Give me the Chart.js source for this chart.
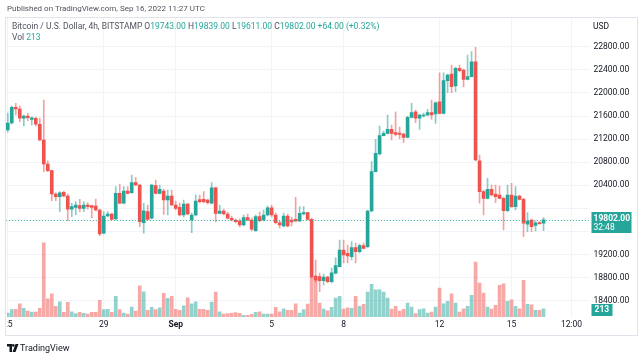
<!DOCTYPE html>
<html>
<head>
<meta charset="utf-8">
<script src="https://cdn.jsdelivr.net/npm/chart.js@4.4.0/dist/chart.umd.min.js"></script>
<style>
  body { margin: 0; width: 640px; height: 359px; overflow: hidden; position: relative; background: #fff;
         font-family: Roboto, 'Liberation Sans', sans-serif; color: #131722; }
  #chart { position: absolute; left: 0; top: 0; }
  .t { position: absolute; white-space: nowrap; line-height: 1; }
  #frame { position: absolute; left: 5px; top: 17px; width: 631px; height: 317px; border: 1px solid #e0e3eb; }
  #mask { position: absolute; left: 0; top: 300px; width: 7px; height: 40px; background: #fff; }
  .up { color: #26a69a; }
</style>
</head>
<body>
<canvas id="chart" width="640" height="359"></canvas>
<div id="mask"></div>
<div id="frame"></div>
<div class="t" style="left:7px; top:5px; font-size:8px; color:#50535e;">Published on TradingView.com, Sep 16, 2022 11:27 UTC</div>
<div class="t" style="left:12px; top:22px; font-size:8.5px; color:#50535e;">Bitcoin / U.S. Dollar, 4h, BITSTAMP O<span class="up">19743.00</span> H<span class="up">19839.00</span> L<span class="up">19611.00</span> C<span class="up">19802.00</span> <span class="up">+64.00 (+0.32%)</span></div>
<div class="t" style="left:12px; top:33px; font-size:8.5px; color:#50535e;">Vol <span class="up">213</span></div>
<div class="t" style="left:593px; top:22px; font-size:8.5px;">USD</div>
<svg style="position:absolute; left:7px; top:344px;" width="12" height="8" viewBox="0 0 12 8">
  <path d="M0 0h5v8h-2.5v-5.5h-2.5z" fill="#131722"/>
  <circle cx="6.3" cy="1.4" r="1.3" fill="#131722"/>
  <path d="M8.5 0h3l-3 8h-3z" fill="#131722"/>
</svg>
<div class="t" style="left:20px; top:344px; font-size:9px; color:#131722;">TradingView</div>
<script>
// BTC/USD 4h candles, Aug 25 00:00 .. Sep 16 08:00 (UTC)
const openVals = [21358,21479,21751,21722,21561,21601,21543,21561,21457,21184,
  20768,20652,20248,20201,20277,20213,19983,20017,20045,20000,
  20057,20045,20040,19971,19567,19867,19901,19815,20260,20087,
  20300,20271,20444,20404,19750,19941,19827,20392,20260,20300,
  20144,20213,20057,20017,19884,20075,19797,19884,20153,20156,
  20144,20087,20357,19913,19953,19901,19827,19797,19780,19711,
  19837,19797,19612,19855,19797,19884,20010,19884,19750,19693,
  19867,19797,19809,19780,19901,19924,19809,18826,18814,18745,
  18809,18727,18873,18987,19277,19220,19161,19317,19248,19352,
  19334,19953,20635,20942,21259,21300,21370,21311,21306,21288,
  21231,21578,21675,21561,21601,21618,21658,21635,21848,21647,
  22213,22329,22121,22428,22398,22237,22282,22542,20825,20288,
  20173,20329,20248,20231,20173,19959,20231,20028,20213,20156,
  19723,19797,19705,19750,19743];
const highVals = [21653,21774,21821,21774,21618,21647,21588,21583,21566,21878,
  20825,20664,20270,20288,20300,20248,20087,20115,20156,20115,
  20097,20057,20161,19988,19941,19941,19919,20375,20421,20375,
  20375,20578,20537,20421,20087,20057,20421,20491,20404,20335,
  20317,20317,20127,20092,20144,20092,19919,20231,20231,20288,
  20161,20444,20369,20057,19988,19936,19867,19815,19815,19884,
  19901,19832,19884,19936,19971,20040,20057,19919,19780,19919,
  19901,19849,20191,20028,20028,19936,19832,19104,18878,18861,
  18826,18965,19139,19450,19450,19364,19421,19398,19381,19398,
  19971,20808,21196,21427,21340,21618,21445,21675,21410,21306,
  21601,21821,21705,21635,21653,21717,21878,21848,22351,22351,
  22329,22485,22450,22485,22416,22658,22716,22792,20924,20317,
  20520,20404,20404,20387,20196,20404,20434,20375,20231,20179,
  19924,19815,19780,19771,19839];
const lowVals = [21323,21462,21618,21502,21427,21519,21445,21427,21167,20635,
  20635,20132,20132,19941,20196,19785,19854,19884,19941,19941,
  19983,19832,19953,19525,19554,19849,19797,19797,20075,20075,
  20248,20260,20387,19681,19567,19797,19815,20248,20248,19896,
  19884,20040,19971,19867,19849,19884,19577,19867,20092,20092,
  20075,20075,19768,19901,19884,19815,19780,19745,19676,19693,
  19780,19607,19598,19763,19780,19867,19849,19728,19659,19676,
  19676,19693,19763,19763,19884,19797,18791,18722,18554,18670,
  18705,18705,18861,18982,19052,19052,19104,19052,19225,19294,
  19312,19936,20630,20924,21254,21288,21184,21254,21202,21138,
  21219,21566,21484,21370,21583,21601,21543,21474,21635,21635,
  22005,22005,22022,22363,22109,22225,22277,20820,20087,19884,
  20161,20213,20097,20161,19624,19936,20014,19971,20144,19508,
  19594,19594,19607,19719,19611];
const closeVals = [21479,21751,21722,21561,21601,21571,21571,21457,21184,20768,
  20652,20248,20201,20270,20213,19983,20028,20057,20000,20057,
  20028,20017,19971,19554,19867,19901,19809,20260,20087,20300,
  20260,20444,20404,19768,19958,19809,20404,20260,20329,20144,
  20213,20057,20000,19884,20075,19901,19884,20127,20114,20114,
  20097,20357,19913,19953,19901,19827,19797,19768,19711,19837,
  19797,19636,19855,19785,19884,20010,19884,19750,19711,19867,
  19693,19763,19780,19913,19924,19809,18814,18757,18745,18809,
  18727,18883,19005,19277,19190,19173,19317,19248,19352,19306,
  19953,20635,20954,21259,21300,21370,21300,21283,21283,21231,
  21578,21658,21561,21618,21618,21658,21618,21831,21647,22213,
  22312,22109,22428,22386,22237,22282,22542,20838,20288,20173,
  20329,20231,20201,20173,19959,20231,20028,20213,20156,19740,
  19780,19681,19750,19733,19802];
const volumeVals = [103,188,198,342,224,154,129,129,224,1910,
  470,599,275,393,121,378,136,85,121,95,
  77,121,121,429,188,198,121,532,188,103,
  77,257,154,804,650,172,249,188,239,609,
  481,532,198,172,290,496,342,393,198,198,
  172,386,643,136,77,85,103,111,95,44,
  44,69,121,136,77,77,77,249,136,213,
  172,172,342,103,188,334,1028,977,360,206,
  162,249,488,532,206,239,224,532,275,326,
  643,840,702,702,643,488,206,275,154,198,
  360,257,85,188,213,103,129,257,745,342,
  403,599,360,129,213,275,558,1414,874,617,
  257,206,301,815,856,403,445,275,213,943,
  326,316,172,172,213];

// time axis: 4h slots from Aug 25 00:00, plus empty slots to the right edge
const slotCount = 146;
const slots = Array.from({ length: slotCount }, (_, i) => i);
const timeTickIndex = [0, 24, 42, 66, 84, 108, 126, 141];
const timeTickText = ['25', '29', 'Sep', '5', '8', '12', '15', '12:00'];
const priceTicks = [18400, 18800, 19200, 19600, 20000, 20400, 20800, 21200, 21600, 22000, 22400, 22800];
const countdown = '32:48';

const GREEN = '#26a69a', RED = '#ef5350';
const up = closeVals.map((c, i) => c >= openVals[i]);
const lastClose = closeVals[closeVals.length - 1];
const lastVol = volumeVals[volumeVals.length - 1];

Chart.defaults.font.family = 'Roboto, "Liberation Sans", sans-serif';
Chart.defaults.font.size = 8.5;
Chart.defaults.color = '#131722';

const lastValuePlugin = {
  id: 'lastValue',
  afterDatasetsDraw(chart) {
    const { ctx, chartArea } = chart;
    const y = chart.scales.y.getPixelForValue(lastClose);
    ctx.save();
    ctx.strokeStyle = GREEN;
    ctx.lineWidth = 1;
    ctx.setLineDash([1, 2]);
    ctx.beginPath();
    ctx.moveTo(chartArea.left, Math.round(y) + 0.5);
    ctx.lineTo(chartArea.right, Math.round(y) + 0.5);
    ctx.stroke();
    ctx.restore();
  },
  afterDraw(chart) {
    const { ctx, chartArea } = chart;
    const x = chartArea.right + 2;
    const y = Math.round(chart.scales.y.getPixelForValue(lastClose));
    ctx.save();
    ctx.fillStyle = GREEN;
    ctx.fillRect(x, y - 8, 40, 21);
    ctx.fillStyle = '#fff';
    ctx.textBaseline = 'middle';
    ctx.font = 'bold 8.5px Roboto, sans-serif';
    ctx.fillText(lastClose.toFixed(2), x + 2, y - 1);
    ctx.font = '8.5px Roboto, sans-serif';
    ctx.fillText(countdown, x + 2, y + 8);
    const vy = Math.round(chart.scales.vol.getPixelForValue(lastVol));
    ctx.fillStyle = GREEN;
    ctx.fillRect(x, vy - 5, 21, 12);
    ctx.fillStyle = '#fff';
    ctx.font = 'bold 8.5px Roboto, sans-serif';
    ctx.fillText(String(lastVol), x + 3, vy + 1);
    ctx.restore();
  }
};

new Chart(document.getElementById('chart').getContext('2d'), {
  type: 'bar',
  data: {
    labels: slots,
    datasets: [
      {
        label: 'body',
        data: openVals.map((o, i) => [o, closeVals[i]]),
        yAxisID: 'y',
        backgroundColor: up.map(u => u ? GREEN : RED),
        barThickness: 3,
        minBarLength: 1,
        grouped: false,
        order: 0
      },
      {
        label: 'wick',
        data: lowVals.map((l, i) => [l, highVals[i]]),
        yAxisID: 'y',
        backgroundColor: up.map(u => u ? 'rgba(38,166,154,0.55)' : 'rgba(239,83,80,0.55)'),
        barThickness: 1,
        grouped: false,
        order: 1
      },
      {
        label: 'vol',
        data: volumeVals,
        yAxisID: 'vol',
        backgroundColor: up.map(u => u ? 'rgba(38,166,154,0.5)' : 'rgba(239,83,80,0.5)'),
        barThickness: 3,
        grouped: false,
        order: 2
      }
    ]
  },
  options: {
    responsive: false,
    animation: false,
    devicePixelRatio: 1,
    layout: { padding: { left: 5.5, top: 18, right: 0, bottom: 0 } },
    plugins: { legend: { display: false }, tooltip: { enabled: false } },
    scales: {
      x: {
        offset: true,
        grid: { offset: false, color: '#f0f3fa', drawTicks: false },
        border: { display: false },
        ticks: {
          autoSkip: false, maxRotation: 0, padding: 3,
          callback: (v) => timeTickText[timeTickIndex.indexOf(v)],
          font: (c) => (c.tick && c.tick.label === 'Sep') ? { weight: 'bold' } : {}
        },
        afterBuildTicks: (axis) => { axis.ticks = timeTickIndex.map(v => ({ value: v })); },
        afterFit: (axis) => { axis.height = 42; }
      },
      y: {
        position: 'right',
        min: 18115, max: 23300,
        grid: { color: '#f0f3fa', drawTicks: false },
        border: { display: false },
        ticks: {
          padding: 4,
          callback: (v) => Math.abs(v - lastClose) < 250 ? '' : v.toFixed(2)
        },
        afterBuildTicks: (axis) => { axis.ticks = priceTicks.map(v => ({ value: v })); },
        afterFit: (axis) => { axis.width = 50.5; }
      },
      vol: {
        display: false,
        min: 0, max: 7700
      }
    }
  },
  plugins: [lastValuePlugin]
});
</script>
</body>
</html>
